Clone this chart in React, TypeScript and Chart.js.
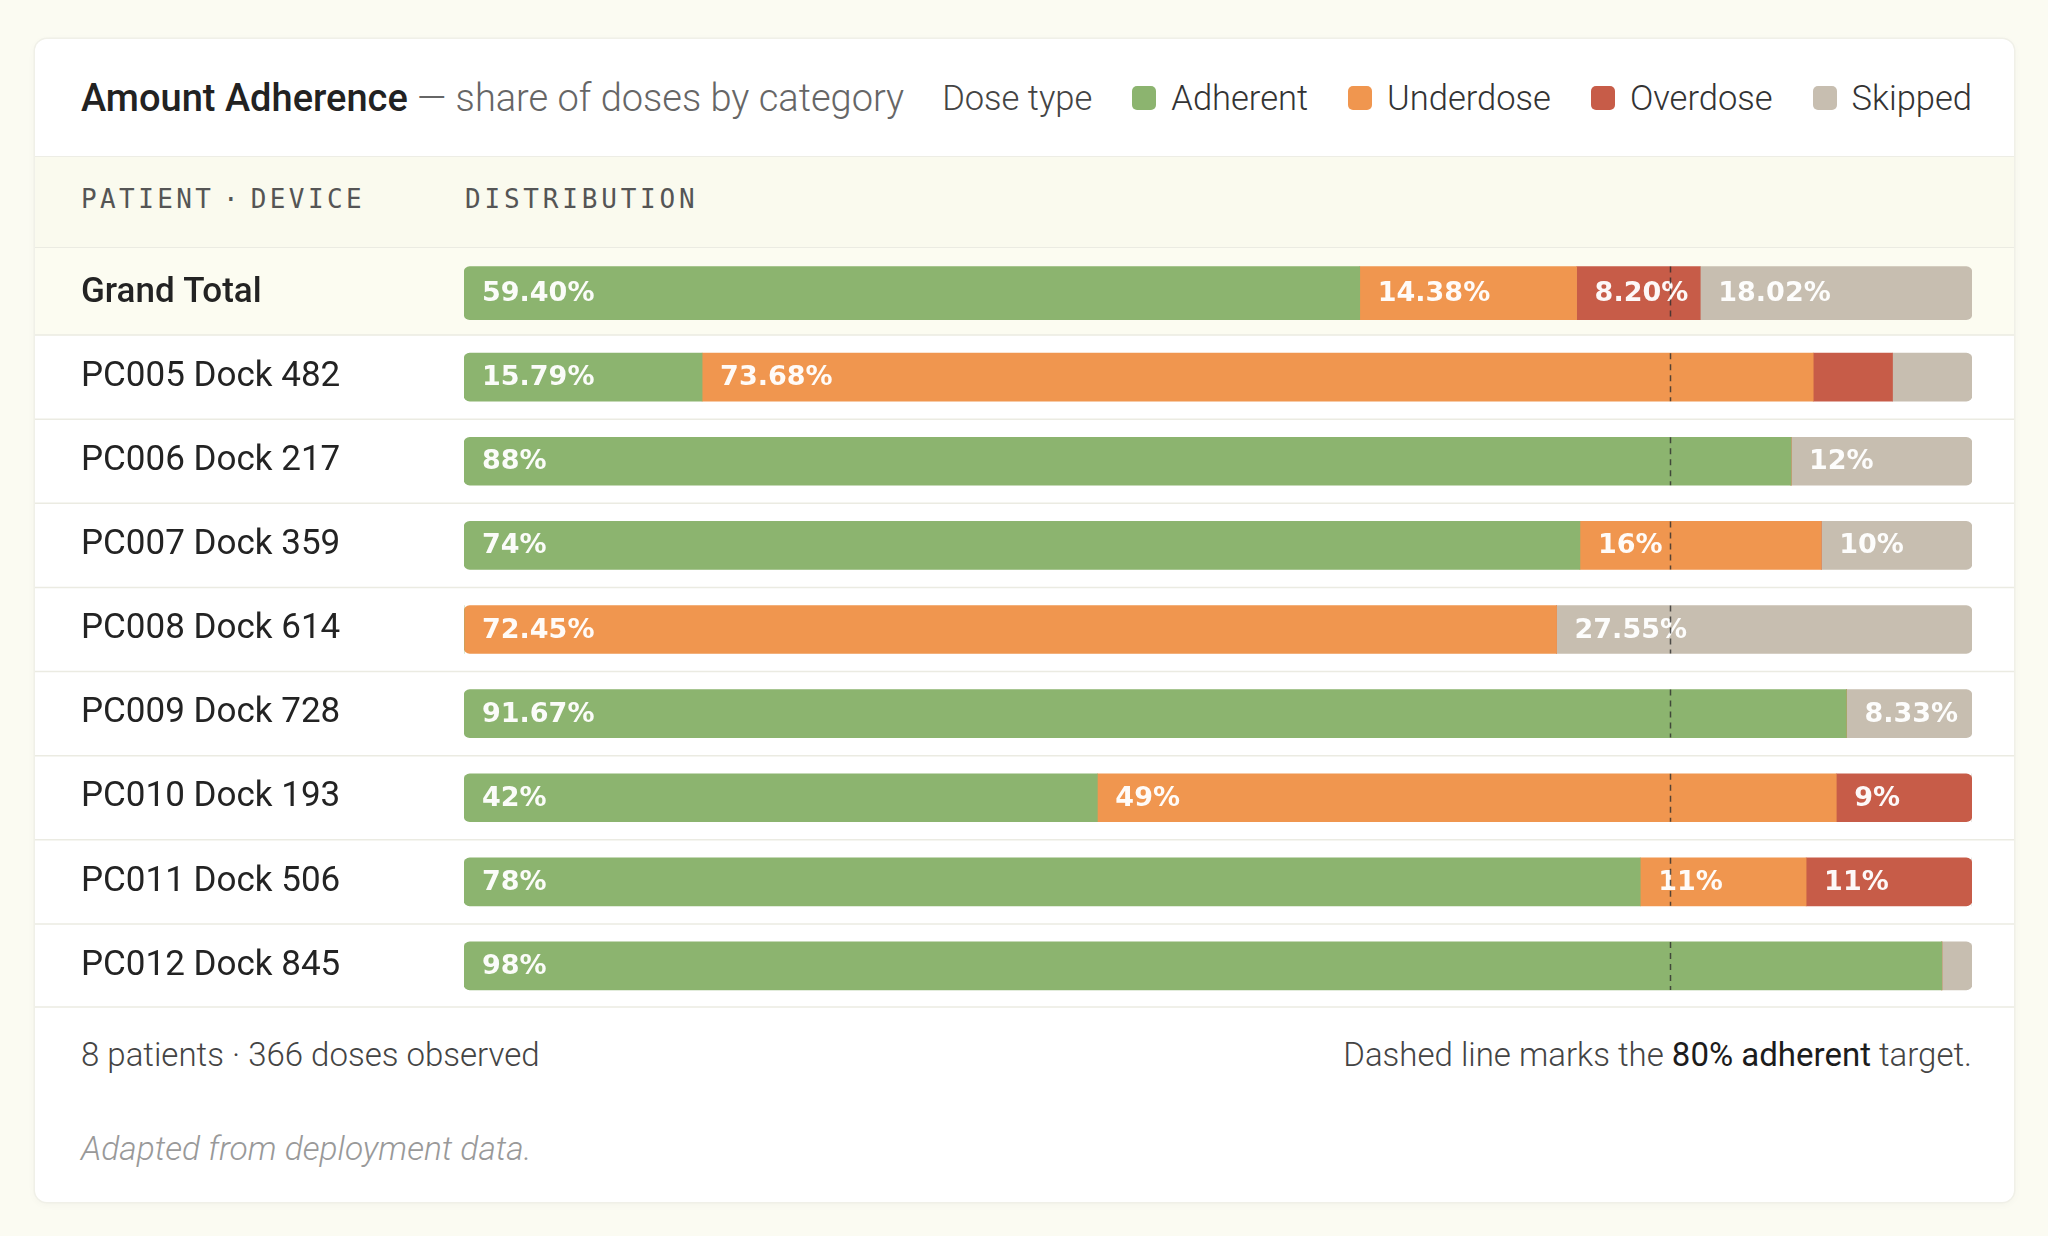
import React, { useEffect, useRef } from "react";
import { Chart, registerables } from "chart.js";

Chart.register(...registerables);

// Rows: summary first, then one row per patient device
const rowLabels = [
  "Grand Total",
  "PC005 Dock 482",
  "PC006 Dock 217",
  "PC007 Dock 359",
  "PC008 Dock 614",
  "PC009 Dock 728",
  "PC010 Dock 193",
  "PC011 Dock 506",
  "PC012 Dock 845",
];

// Share of doses (%) per category for each row
const adherent = [59.4, 15.79, 88, 74, 0, 91.67, 42, 78, 98];
const underdose = [14.38, 73.68, 0, 16, 72.45, 0, 49, 11, 0];
const overdose = [8.2, 5.26, 0, 0, 0, 0, 9, 11, 0];
const skipped = [18.02, 5.27, 12, 10, 27.55, 8.33, 0, 0, 2];

const categoryNames = ["Adherent", "Underdose", "Overdose", "Skipped"];
const categoryColors = ["#8cb46f", "#f0964f", "#c75c48", "#c7beb0"];

const targetPct = 80;
const labelMinPct = 8;

const series = [adherent, underdose, overdose, skipped];

const FONT = "Roboto, 'Noto Sans', sans-serif";
const BAR_FONT = "'DejaVu Sans', Verdana, sans-serif";
const MONO = "'DejaVu Sans Mono', 'Liberation Mono', monospace";

const fmtPct = (v: number) =>
  Number.isInteger(v) ? `${v}%` : `${v.toFixed(2)}%`;

const CARD_W = 1979;
const CANVAS_H = 760;

function cornerRadius(ctx: any) {
  const i = ctx.dataIndex;
  const k = ctx.dataset.cat;
  const row = series.map((s) => s[i]);
  const first = row.findIndex((v) => v > 0);
  let last = -1;
  row.forEach((v, j) => {
    if (v > 0) last = j;
  });
  const r = 6;
  return {
    topLeft: k === first ? r : 0,
    bottomLeft: k === first ? r : 0,
    topRight: k === last ? r : 0,
    bottomRight: k === last ? r : 0,
  };
}

const rowBands = {
  id: "rowBands",
  beforeDraw(chart: any) {
    const { ctx, width } = chart;
    const y = chart.scales.y;
    const step = y.getPixelForValue(1) - y.getPixelForValue(0);
    const firstEdge = y.getPixelForValue(0) + step / 2;
    ctx.save();
    ctx.fillStyle = "#fcfcf1";
    ctx.fillRect(0, 0, width, firstEdge);
    ctx.strokeStyle = "#ebebe2";
    ctx.lineWidth = 1.5;
    for (let i = 0; i < rowLabels.length; i++) {
      let yy = y.getPixelForValue(i) + step / 2;
      if (i === rowLabels.length - 1) yy = chart.height - 1;
      ctx.beginPath();
      ctx.moveTo(0, yy);
      ctx.lineTo(width, yy);
      ctx.stroke();
    }
    ctx.restore();
  },
};

const segmentLabels = {
  id: "segmentLabels",
  afterDatasetsDraw(chart: any) {
    const { ctx } = chart;
    ctx.save();
    ctx.font = `700 27px ${BAR_FONT}`;
    ctx.fillStyle = "rgba(255,255,255,0.96)";
    ctx.textBaseline = "middle";
    ctx.textAlign = "left";
    chart.data.datasets.forEach((ds: any, di: number) => {
      const meta = chart.getDatasetMeta(di);
      meta.data.forEach((el: any, i: number) => {
        const v = ds.data[i];
        if (v == null || v < labelMinPct) return;
        const { x, y, base } = el.getProps(["x", "y", "base"], true);
        ctx.fillText(fmtPct(v), Math.min(x, base) + 18, y + 1);
      });
    });

    // dashed target marker across each bar
    const tx = Math.round(chart.scales.x.getPixelForValue(targetPct)) + 0.5;
    ctx.setLineDash([6, 5]);
    ctx.strokeStyle = "rgba(45,45,45,0.8)";
    ctx.lineWidth = 1.5;
    for (let i = 0; i < rowLabels.length; i++) {
      const meta = chart.getDatasetMeta(i === 0 ? 0 : 1);
      const el = meta.data[i];
      if (!el) continue;
      const { y, height } = el.getProps(["y", "height"], true);
      ctx.beginPath();
      ctx.moveTo(tx, y - height / 2);
      ctx.lineTo(tx, y + height / 2);
      ctx.stroke();
    }
    ctx.restore();
  },
};

function buildDatasets() {
  const out: any[] = [];
  series.forEach((vals, k) => {
    // summary row is drawn a touch thicker than the patient rows
    out.push({
      label: categoryNames[k],
      cat: k,
      data: vals.map((v, i) => (i === 0 ? v : null)),
      backgroundColor: categoryColors[k],
      barThickness: 53,
      borderRadius: cornerRadius,
      borderSkipped: false,
    });
    out.push({
      label: categoryNames[k],
      cat: k,
      data: vals.map((v, i) => (i === 0 ? null : v)),
      backgroundColor: categoryColors[k],
      barThickness: 48,
      borderRadius: cornerRadius,
      borderSkipped: false,
    });
  });
  return out;
}

function AdherenceBars() {
  const ref = useRef<HTMLCanvasElement | null>(null);
  useEffect(() => {
    if (!ref.current) return;
    const chart = new Chart(ref.current, {
      type: "bar",
      data: { labels: rowLabels, datasets: buildDatasets() },
      options: {
        indexAxis: "y",
        responsive: false,
        maintainAspectRatio: false,
        animation: false,
        events: [],
        layout: { padding: { left: 46, right: 42, top: 3, bottom: 0 } },
        plugins: { legend: { display: false }, tooltip: { enabled: false } },
        scales: {
          x: { type: "linear", min: 0, max: 100, stacked: true, display: false },
          y: {
            stacked: true,
            grid: { display: false },
            border: { display: false },
            afterFit: (s: any) => {
              s.width = 383;
              // rows fill the full canvas height
              s.paddingTop = 0;
              s.paddingBottom = 0;
            },
            ticks: {
              autoSkip: false,
              crossAlign: "far",
              padding: 0,
              color: "#232323",
              font: (c: any) => ({
                family: FONT,
                size: 35,
                weight: c.index === 0 ? "500" : "400",
              }),
            },
          },
        },
      } as any,
      plugins: [rowBands, segmentLabels],
    });
    return () => chart.destroy();
  }, []);
  return (
    <canvas
      ref={ref}
      width={CARD_W}
      height={CANVAS_H}
      style={{ position: "absolute", left: 0, top: 209, width: CARD_W, height: CANVAS_H }}
    />
  );
}

function LegendItem({ name, color }: { name: string; color: string }) {
  return (
    <span style={{ display: "inline-flex", alignItems: "center", marginLeft: 40 }}>
      <span
        style={{
          width: 24,
          height: 24,
          borderRadius: 5,
          background: color,
          display: "inline-block",
          marginRight: 15,
        }}
      />
      <span>{name}</span>
    </span>
  );
}

export default function App() {
  return (
    <div
      style={{
        position: "fixed",
        left: 0,
        top: 0,
        width: 2048,
        height: 1236,
        background: "#fbfbf2",
        fontFamily: FONT,
        overflow: "hidden",
      }}
    >
      <div
        style={{
          position: "absolute",
          left: 35,
          top: 39,
          width: CARD_W,
          height: 1163,
          background: "#ffffff",
          borderRadius: 12,
          boxShadow: "0 0 0 1.5px #f0f0e8, 0 2px 8px rgba(0,0,0,0.04)",
          overflow: "hidden",
        }}
      >
        {/* header: title and legend */}
        <div
          style={{
            position: "absolute",
            left: 0,
            top: 0,
            width: CARD_W,
            height: 118,
            boxSizing: "border-box",
            padding: "0 42px 0 46px",
            display: "flex",
            alignItems: "center",
            justifyContent: "space-between",
            borderBottom: "1.5px solid #ededE5",
            whiteSpace: "nowrap",
          }}
        >
          <div style={{ fontSize: 38 }}>
            <span style={{ fontWeight: 500, color: "#222" }}>Amount Adherence</span>
            <span style={{ fontWeight: 300, color: "#666" }}> — share of doses by category</span>
          </div>
          <div style={{ fontSize: 34.5, fontWeight: 300, color: "#333", display: "flex", alignItems: "center" }}>
            <span style={{ color: "#444" }}>Dose type</span>
            {categoryNames.map((n, k) => (
              <LegendItem key={n} name={n} color={categoryColors[k]} />
            ))}
          </div>
        </div>

        {/* column headings */}
        <div
          style={{
            position: "absolute",
            left: 0,
            top: 118,
            width: CARD_W,
            height: 91,
            background: "#fafaee",
            borderBottom: "1.5px solid #ebebe2",
            boxSizing: "border-box",
            fontFamily: MONO,
            fontSize: 26,
            letterSpacing: 3.4,
            color: "#555",
            whiteSpace: "nowrap",
          }}
        >
          <span style={{ position: "absolute", left: 46, top: 27 }}>
            PATIENT<span style={{ letterSpacing: -7 }}> </span>·<span style={{ letterSpacing: -7 }}> </span>DEVICE
          </span>
          <span style={{ position: "absolute", left: 430, top: 27, letterSpacing: 3.8 }}>DISTRIBUTION</span>
        </div>

        <AdherenceBars />

        {/* footer */}
        <div
          style={{
            position: "absolute",
            left: 0,
            top: 990,
            width: CARD_W,
            height: 50,
            boxSizing: "border-box",
            padding: "0 42px 0 46px",
            display: "flex",
            alignItems: "center",
            justifyContent: "space-between",
            fontSize: 33,
            fontWeight: 300,
            color: "#444",
          }}
        >
          <span>8 patients · 366 doses observed</span>
          <span>
            Dashed line marks the <span style={{ fontWeight: 400, color: "#1c1c1c" }}>80% adherent</span> target.
          </span>
        </div>
        <div
          style={{
            position: "absolute",
            left: 46,
            top: 1084,
            height: 50,
            display: "flex",
            alignItems: "center",
            fontSize: 33.5,
            fontWeight: 300,
            fontStyle: "italic",
            color: "#999",
          }}
        >
          Adapted from deployment data.
        </div>
      </div>
    </div>
  );
}
